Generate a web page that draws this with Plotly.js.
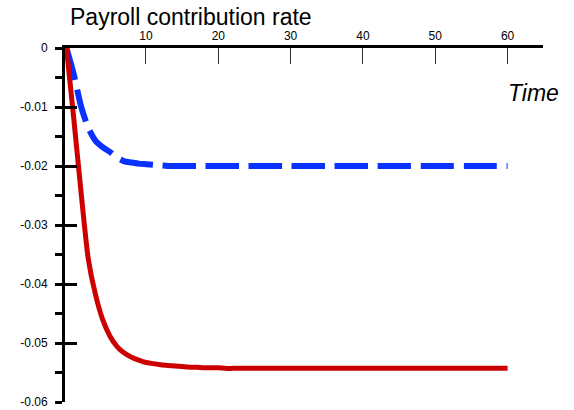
<!DOCTYPE html>
<html>
<head>
<meta charset="utf-8">
<script src="https://cdn.plot.ly/plotly-3.0.1.min.js"></script>
<style>html,body{margin:0;padding:0;background:#fff;}#chart{width:574px;height:410px;}</style>
</head>
<body>
<div id="chart"></div>
<script>
// Time periods
var time = [-1,0,1,2,3,4,5,6,7,8,9,10,11,12,13,14,15,16,17,18,19,20,21,22,23,24,25,26,27,28,29,30,31,32,33,34,35,36,37,38,39,40,41,42,43,44,45,46,47,48,49,50,51,52,53,54,55,56,57,58,59,60];
// Red solid series
var redSeries = [0,-0.0118,-0.0242,-0.0356,-0.0417,-0.0460,-0.0488,-0.0506,-0.0517,-0.0524,-0.0529,-0.0533,-0.0535,-0.0537,-0.0538,-0.0539,-0.0540,-0.0541,-0.0541,-0.0542,-0.0542,-0.0542,-0.0543,-0.0543,-0.0543,-0.0543,-0.0543,-0.0543,-0.0543,-0.0543,-0.0543,-0.0543,-0.0543,-0.0543,-0.0543,-0.0543,-0.0543,-0.0543,-0.0543,-0.0543,-0.0543,-0.0543,-0.0543,-0.0543,-0.0543,-0.0543,-0.0543,-0.0543,-0.0543,-0.0543,-0.0543,-0.0543,-0.0543,-0.0543,-0.0543,-0.0543,-0.0543,-0.0543,-0.0543,-0.0543,-0.0543,-0.0543];
// Blue dashed series
var blueSeries = [0,-0.0044,-0.0098,-0.0135,-0.0157,-0.0168,-0.0176,-0.0186,-0.0192,-0.0194,-0.0196,-0.0197,-0.0198,-0.0199,-0.0200,-0.0200,-0.0200,-0.0200,-0.0200,-0.0200,-0.0200,-0.0200,-0.0200,-0.0200,-0.0200,-0.0200,-0.0200,-0.0200,-0.0200,-0.0200,-0.0200,-0.0200,-0.0200,-0.0200,-0.0200,-0.0200,-0.0200,-0.0200,-0.0200,-0.0200,-0.0200,-0.0200,-0.0200,-0.0200,-0.0200,-0.0200,-0.0200,-0.0200,-0.0200,-0.0200,-0.0200,-0.0200,-0.0200,-0.0200,-0.0200,-0.0200,-0.0200,-0.0200,-0.0200,-0.0200,-0.0200,-0.0200];
// Tick labels
var xTickVals = [10,20,30,40,50,60];
var xTickText = ["10","20","30","40","50","60"];
var yTickVals = [0,-0.01,-0.02,-0.03,-0.04,-0.05,-0.06];
var yTickText = ["0","-0.01","-0.02","-0.03","-0.04","-0.05","-0.06"];
var yMinorVals = [-0.005,-0.015,-0.025,-0.035,-0.045,-0.055];
var titleText = "Payroll contribution rate";
var xLabel = "Time";

var traces = [
  {x: time, y: blueSeries, type: 'scatter', mode: 'lines',
   line: {color: '#0a32ff', width: 6, dash: '33px,10px', shape: 'spline', smoothing: 0.6},
   hoverinfo: 'skip', showlegend: false},
  {x: time, y: redSeries, type: 'scatter', mode: 'lines',
   line: {color: '#cc0000', width: 5, shape: 'spline', smoothing: 0.6},
   hoverinfo: 'skip', showlegend: false},
  {x: [], y: [], yaxis: 'y2', type: 'scatter', mode: 'lines', showlegend: false, hoverinfo: 'skip'}
];

var font = 'Liberation Sans, Arial, sans-serif';
var layout = {
  width: 574, height: 410,
  margin: {l: 65, r: 31, t: 48, b: 8, pad: 0},
  paper_bgcolor: '#fff', plot_bgcolor: '#fff',
  showlegend: false,
  font: {family: font, color: '#000', size: 12},
  xaxis: {
    side: 'top', range: [-1.2, 64.9], showgrid: false, zeroline: false,
    showline: true, linecolor: '#000', linewidth: 3,
    ticks: 'inside', ticklen: 16, tickwidth: 1, tickcolor: '#333',
    tickmode: 'array', tickvals: xTickVals, ticktext: xTickText,
    tickfont: {family: font, size: 12, color: '#000'}
  },
  yaxis: {
    range: [-0.06, 0], showgrid: false, zeroline: false,
    showline: true, linecolor: '#000', linewidth: 3,
    ticks: 'outside', ticklen: 7, tickwidth: 3, tickcolor: '#000',
    tickmode: 'array', tickvals: yTickVals, ticktext: yTickText,
    ticklabelstandoff: 5,
    minor: {ticks: 'outside', ticklen: 7, tickwidth: 3, tickcolor: '#000', tickmode: 'array', tickvals: yMinorVals, showgrid: false},
    tickfont: {family: font, size: 12, color: '#000'}
  },
  yaxis2: {
    overlaying: 'y', side: 'left', range: [-0.06, 0], showgrid: false, zeroline: false,
    showline: false, ticks: 'inside', ticklen: 12, tickwidth: 3, tickcolor: '#000',
    tickmode: 'array', tickvals: yTickVals, showticklabels: false
  },
  annotations: [
    {text: titleText, xref: 'paper', yref: 'paper', x: 0.006, y: 1.087, xanchor: 'left', yanchor: 'middle',
     showarrow: false, font: {family: font, size: 23, color: '#000'}},
    {text: '<i>' + xLabel + '</i>', xref: 'paper', yref: 'paper', x: 0.922, y: 0.873, xanchor: 'left', yanchor: 'middle',
     showarrow: false, font: {family: font, size: 23, color: '#000'}}
  ]
};

Plotly.newPlot('chart', traces, layout, {displayModeBar: false, staticPlot: true});
</script>
</body>
</html>
